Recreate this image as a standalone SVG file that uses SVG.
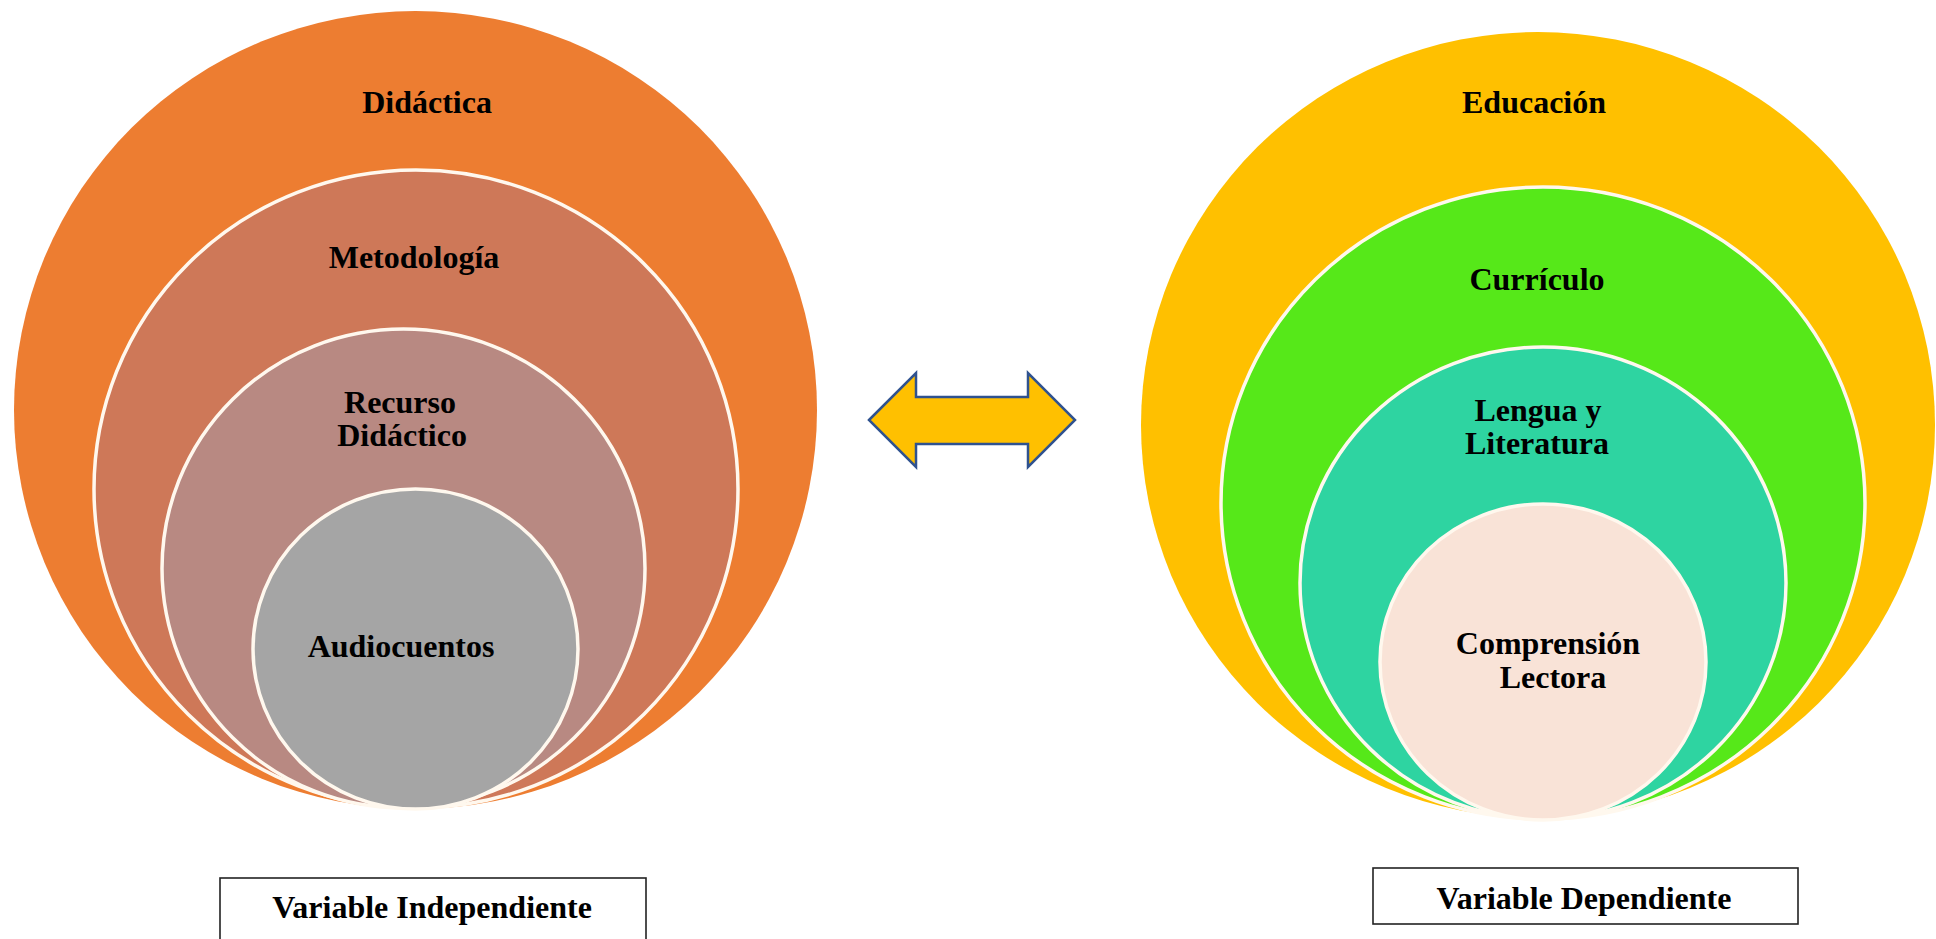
<svg xmlns="http://www.w3.org/2000/svg" width="1936" height="939" viewBox="0 0 1936 939">
<style>
.lbl{font-family:"Liberation Serif","Times New Roman",serif;font-weight:bold;font-size:32px;fill:#000;text-anchor:middle}
.ring{stroke:#FFF8EE;stroke-width:3.5}
.box{fill:#fff;stroke:#222;stroke-width:1.6}
</style>
<rect width="1936" height="939" fill="#fff"/>
<g id="didactica">
<ellipse cx="415.5" cy="410" rx="401.5" ry="399" fill="#ED7D31"/>
<text class="lbl" x="427" y="113">Didáctica</text>
</g>
<g id="metodologia">
<ellipse class="ring" cx="416" cy="489" rx="322" ry="319" fill="#CE7858"/>
<text class="lbl" x="414" y="268">Metodología</text>
</g>
<g id="recurso-didactico">
<ellipse class="ring" cx="403.5" cy="568.5" rx="241.5" ry="239.5" fill="#B88982"/>
<text class="lbl" x="400" y="413">Recurso</text>
<text class="lbl" x="402" y="446">Didáctico</text>
</g>
<g id="audiocuentos">
<ellipse class="ring" cx="415.5" cy="649" rx="162.5" ry="160" fill="#A5A5A5"/>
<text class="lbl" x="401" y="657">Audiocuentos</text>
</g>
<g id="educacion">
<ellipse cx="1538" cy="425" rx="397" ry="393" fill="#FFC000"/>
<text class="lbl" x="1534" y="113">Educación</text>
</g>
<g id="curriculo">
<ellipse class="ring" cx="1543" cy="503" rx="322" ry="316" fill="#56E819"/>
<text class="lbl" x="1537" y="290">Currículo</text>
</g>
<g id="lengua-literatura">
<ellipse class="ring" cx="1543" cy="583" rx="243" ry="236" fill="#2ED4A1"/>
<text class="lbl" x="1538" y="421">Lengua y</text>
<text class="lbl" x="1537" y="454">Literatura</text>
</g>
<g id="comprension-lectora">
<ellipse class="ring" cx="1543" cy="662" rx="163" ry="158" fill="#F9E3D7"/>
<text class="lbl" x="1548" y="654">Comprensión</text>
<text class="lbl" x="1553" y="688">Lectora</text>
</g>
<g id="variable-independiente">
<rect class="box" x="220" y="878" width="426" height="70"/>
<text class="lbl" x="432" y="918">Variable Independiente</text>
</g>
<g id="variable-dependiente">
<rect class="box" x="1373" y="868" width="425" height="56"/>
<text class="lbl" x="1584" y="909">Variable Dependiente</text>
</g>
<g id="connectors">
<path d="M869,420 L916,373 L916,397 L1028,397 L1028,373 L1075,420 L1028,467 L1028,444 L916,444 L916,467 Z" fill="#FFC000" stroke="#2F528F" stroke-width="2.5" stroke-linejoin="miter"/>
</g>
</svg>
